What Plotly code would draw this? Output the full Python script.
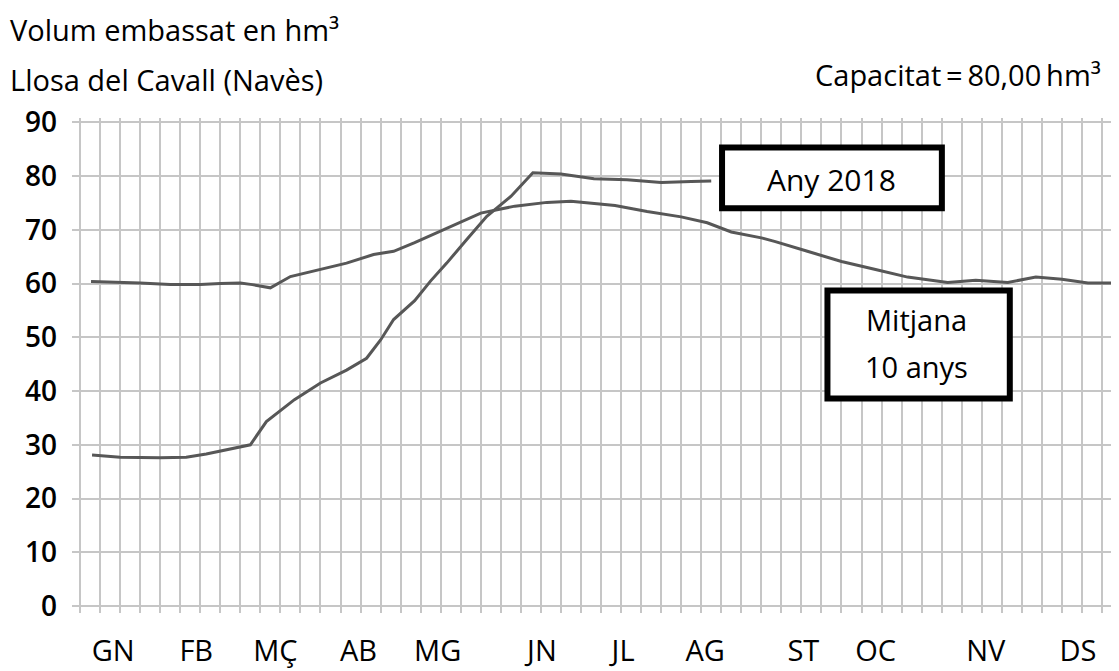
import plotly.graph_objects as go

# ---- data (x = week of year, y = stored volume hm3) ----
weeks_mitjana = [0.55, 2, 3, 4.5, 6, 7, 8, 8.6, 9.5, 10.5, 12, 13.3, 14.65, 15.65, 16.7,
                 18.3, 20, 21.7, 23.3, 24.5, 26.7, 28.3, 30, 31.3, 32.5, 34, 34.7, 36.3,
                 38, 39.7, 41.3, 43.3, 44.7, 46.3, 47.7, 49, 50.3, 51.5]
mitjana = [60.4, 60.3, 60.1, 59.8, 59.8, 60.0, 60.1, 59.8, 59.2, 61.3, 62.6, 63.8, 65.4, 66.0, 67.6,
           70.3, 73.1, 74.4, 75.1, 75.3, 74.5, 73.4, 72.4, 71.3, 69.6, 68.5, 67.8, 66.0,
           64.1, 62.6, 61.2, 60.2, 60.6, 60.2, 61.2, 60.8, 60.1, 60.1]

weeks_2018 = [0.6, 2, 4, 5.3, 6.3, 7.7, 8.5, 9.3, 10.7, 12, 13.3, 14.3, 15, 15.65, 16.7,
              17.5, 18.3, 19.3, 20.3, 21.5, 22.6, 24, 25.65, 27.3, 29, 30.5, 31.5]
any_2018 = [28.1, 27.7, 27.6, 27.7, 28.3, 29.4, 30.0, 34.3, 38.4, 41.5, 43.9, 46.1, 49.5, 53.3, 56.8,
            60.5, 63.8, 68.2, 72.5, 76.2, 80.6, 80.4, 79.5, 79.3, 78.8, 79.0, 79.1]

month_labels = ["GN", "FB", "MÇ", "AB", "MG", "JN", "JL", "AG", "ST", "OC", "NV", "DS"]
month_pos = [1.65, 5.8, 9.75, 13.9, 17.85, 23.05, 27.1, 31.2, 36.1, 39.7, 45.2, 49.8]

FONT = "Open Sans"
LINE = "#575757"
GRID = "#c6c6c6"

fig = go.Figure()
fig.add_trace(go.Scatter(x=weeks_mitjana, y=mitjana, mode="lines",
                         line=dict(color=LINE, width=3), showlegend=False, hoverinfo="skip"))
fig.add_trace(go.Scatter(x=weeks_2018, y=any_2018, mode="lines",
                         line=dict(color=LINE, width=3), showlegend=False, hoverinfo="skip"))

# label boxes
fig.add_shape(type="rect", x0=32.04, x1=43.01, y0=74.0, y1=85.3,
              line=dict(color="black", width=6), fillcolor="white", layer="above")
fig.add_shape(type="rect", x0=37.3, x1=46.4, y0=38.6, y1=58.7,
              line=dict(color="black", width=6), fillcolor="white", layer="above")
fig.add_annotation(x=37.5, y=79.4, text="Any 2018", showarrow=False,
                   font=dict(family=FONT, size=30, color="black"))
fig.add_annotation(x=41.75, y=53.3, text="Mitjana", showarrow=False,
                   font=dict(family=FONT, size=29, color="black"))
fig.add_annotation(x=41.75, y=44.6, text="10 anys", showarrow=False,
                   font=dict(family=FONT, size=29, color="black"))

# header texts
fig.add_annotation(xref="paper", yref="paper", x=-0.0615, y=1.178, xanchor="left", yanchor="middle",
                   text="Volum embassat en hm³", showarrow=False,
                   font=dict(family=FONT, size=29, color="black"))
fig.add_annotation(xref="paper", yref="paper", x=-0.0615, y=1.077, xanchor="left", yanchor="middle",
                   text="Llosa del Cavall (Navès)", showarrow=False,
                   font=dict(family=FONT, size=29, color="black"))
fig.add_annotation(xref="paper", yref="paper", x=0.991, y=1.087, xanchor="right", yanchor="middle",
                   text="Capacitat\u2009=\u200980,00\u2009hm³", showarrow=False,
                   font=dict(family=FONT, size=29, color="black"))

# the page body adds an 8 px offset, so the figure is 8 px smaller and margins shifted
fig.update_layout(
    width=1111, height=663,
    margin=dict(l=64, r=7, t=110, b=58, autoexpand=False),
    paper_bgcolor="white", plot_bgcolor="white",
    font=dict(family=FONT, color="black"),
    xaxis=dict(range=[-0.4, 51.5], tickmode="array", tickvals=month_pos, ticktext=month_labels,
               showgrid=False, zeroline=False, showline=False, ticks="", automargin=False,
               tickfont=dict(family=FONT, size=29, color="black"),
               ticklabelstandoff=18,
               minor=dict(tickmode="linear", tick0=0, dtick=1, showgrid=True,
                          gridcolor=GRID, gridwidth=2, ticks="")),
    yaxis=dict(range=[-1.3, 90.8], tickmode="linear", tick0=0, dtick=10, automargin=False,
               showgrid=True, gridcolor=GRID, gridwidth=2, zeroline=False, showline=False,
               ticks="", tickfont=dict(family=FONT, size=28, color="black", weight=600),
               ticklabelstandoff=14),
)

fig.write_html("out.html")
